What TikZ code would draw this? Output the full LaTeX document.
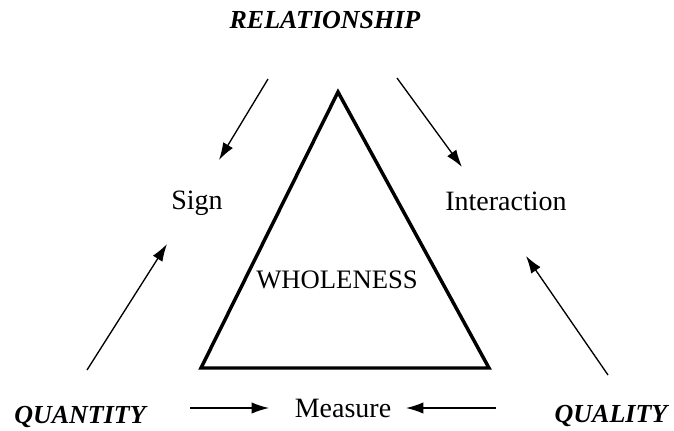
\documentclass[tikz,border=0pt]{standalone}
\usepackage{fontspec}
\setmainfont{Liberation Serif}
\usetikzlibrary{arrows.meta}
\begin{document}
\begin{tikzpicture}[x=0.75pt,y=-0.75pt,
  lbl/.style={inner sep=0pt,anchor=base,font=\fontsize{21pt}{24pt}\selectfont},
  key/.style={inner sep=0pt,anchor=base,font=\fontsize{19.5pt}{23pt}\selectfont\bfseries\itshape},
  arr/.style={line width=1pt,-{Latex[length=13pt,width=8.5pt]}},
  tri/.style={line width=2.6pt,line join=miter}]
\useasboundingbox (0,0) rectangle (674,430);
% triangle
\coordinate (apex) at (338,92);
\coordinate (bl) at (201,368);
\coordinate (br) at (489,368);
\draw[tri] (apex) -- (br) -- (bl) -- cycle;
% labels
\node[key] (rel) at (325,28) {RELATIONSHIP};
\node[lbl] (sign) at (197,209) {Sign};
\node[lbl] (inter) at (506,210) {Interaction};
\node[lbl,font=\fontsize{20pt}{24pt}\selectfont] (whole) at (337,288) {WHOLENESS};
\node[key] (quan) at (80,423) {QUANTITY};
\node[lbl] (meas) at (343,417) {Measure};
\node[key] (qual) at (611,422) {QUALITY};
% arrow end points
\coordinate (a1s) at (268,79);
\coordinate (a1e) at (219,160);
\coordinate (a2s) at (397,78);
\coordinate (a2e) at (462,167);
\coordinate (a3s) at (87,370);
\coordinate (a3e) at (167,244);
\coordinate (a4s) at (608,375);
\coordinate (a4e) at (526,256);
\coordinate (a5s) at (190,408);
\coordinate (a5e) at (269,408);
\coordinate (a6s) at (496,408);
\coordinate (a6e) at (406,408);
\draw[arr] (a1s) -- (a1e);
\draw[arr] (a2s) -- (a2e);
\draw[arr] (a3s) -- (a3e);
\draw[arr] (a4s) -- (a4e);
\draw[arr] (a5s) -- (a5e);
\draw[arr] (a6s) -- (a6e);
\end{tikzpicture}
\end{document}
